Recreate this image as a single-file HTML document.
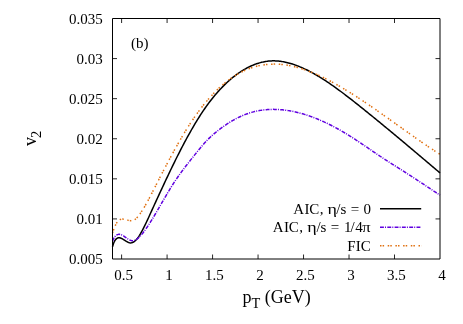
<!DOCTYPE html>
<html><head><meta charset="utf-8"><title>v2</title>
<style>
html,body{margin:0;padding:0;background:#fff;}
svg{display:block;opacity:0.999;will-change:transform;font-family:"Liberation Serif",serif;}
</style></head><body>
<svg width="463" height="324" viewBox="0 0 463 324">
<rect width="463" height="324" fill="#fff"/>
<g font-size="15" fill="#000">
<text x="102.7" y="264.15" text-anchor="end">0.005</text>
<text x="102.7" y="224.07" text-anchor="end">0.01</text>
<text x="102.7" y="183.98" text-anchor="end">0.015</text>
<text x="102.7" y="143.90" text-anchor="end">0.02</text>
<text x="102.7" y="103.82" text-anchor="end">0.025</text>
<text x="102.7" y="63.73" text-anchor="end">0.03</text>
<text x="102.7" y="23.65" text-anchor="end">0.035</text>
<text x="123.50" y="280" text-anchor="middle">0.5</text>
<text x="168.98" y="280" text-anchor="middle">1</text>
<text x="214.47" y="280" text-anchor="middle">1.5</text>
<text x="259.96" y="280" text-anchor="middle">2</text>
<text x="305.44" y="280" text-anchor="middle">2.5</text>
<text x="350.93" y="280" text-anchor="middle">3</text>
<text x="396.41" y="280" text-anchor="middle">3.5</text>
<text x="441.90" y="280" text-anchor="middle">4</text>
<text x="131.1" y="47.8">(b)</text>
<text y="214.1" x="293.2 304.4 309.2 319.8">AIC,</text>
<text transform="translate(327.6,214.1) scale(1.2,1)">&#951;</text>
<text y="214.1" x="336.3 340.5">/s</text>
<text y="214.1" x="350.8">=</text>
<text y="214.1" x="363.5">0</text>
<text y="232.4" x="272.7 283.9 288.7 299.3">AIC,</text>
<text transform="translate(307.2,232.4) scale(1.2,1)">&#951;</text>
<text y="232.4" x="316.5 320.5">/s</text>
<text y="232.4" x="330.8">=</text>
<text y="232.4" x="344.0 350.5 355.3">1/4</text>
<text transform="translate(362.3,232.4) scale(1.1,1)">&#960;</text>
<text x="347.3" y="251.0">FIC</text>
</g>
<g font-size="18" fill="#000">
<text x="242.5" y="303.3">p<tspan font-size="14.4" dy="4.2">T</tspan><tspan dy="-4.2"> (GeV)</tspan></text>
<text transform="translate(35.5,146.1) rotate(-90)">v<tspan font-size="14.4" dy="5.4" dx="-1">2</tspan></text>
</g>
<g fill="none" stroke-linejoin="round">
<path d="M112.50,246.72 L113.50,243.56 L114.50,241.25 L115.50,239.65 L116.50,238.62 L117.50,238.04 L118.50,237.80 L119.50,237.83 L120.50,238.06 L121.50,238.45 L122.50,238.95 L123.50,239.54 L124.50,240.18 L125.50,240.82 L126.50,241.44 L127.50,241.99 L128.50,242.44 L129.50,242.75 L130.50,242.89 L131.50,242.81 L132.50,242.52 L133.50,242.02 L134.50,241.33 L135.50,240.45 L136.50,239.40 L137.50,238.19 L138.50,236.83 L139.50,235.33 L140.50,233.70 L141.50,231.96 L142.50,230.13 L143.50,228.20 L144.50,226.20 L145.50,224.14 L146.50,222.02 L147.50,219.87 L148.50,217.69 L149.50,215.50 L150.50,213.31 L151.50,211.12 L152.50,208.92 L153.50,206.74 L154.50,204.55 L155.50,202.37 L156.50,200.18 L157.50,198.01 L158.50,195.84 L159.50,193.67 L160.50,191.51 L161.50,189.35 L162.50,187.20 L163.50,185.06 L164.50,182.92 L165.50,180.79 L166.50,178.67 L167.50,176.56 L168.50,174.46 L169.50,172.37 L170.50,170.28 L171.50,168.21 L172.50,166.15 L173.50,164.10 L174.50,162.06 L175.50,160.04 L176.50,158.03 L177.50,156.03 L178.50,154.05 L179.50,152.08 L180.50,150.12 L181.50,148.18 L182.50,146.26 L183.50,144.35 L184.50,142.46 L185.50,140.59 L186.50,138.74 L187.50,136.90 L188.50,135.08 L189.50,133.29 L190.50,131.51 L191.50,129.75 L192.50,128.02 L193.50,126.30 L194.50,124.61 L195.50,122.94 L196.50,121.29 L197.50,119.66 L198.50,118.06 L199.50,116.48 L200.50,114.93 L201.50,113.40 L202.50,111.90 L203.50,110.42 L204.50,108.97 L205.50,107.54 L206.50,106.14 L207.50,104.76 L208.50,103.40 L209.50,102.07 L210.50,100.76 L211.50,99.48 L212.50,98.22 L213.50,96.98 L214.50,95.77 L215.50,94.58 L216.50,93.41 L217.50,92.26 L218.50,91.14 L219.50,90.04 L220.50,88.96 L221.50,87.91 L222.50,86.87 L223.50,85.86 L224.50,84.87 L225.50,83.90 L226.50,82.95 L227.50,82.02 L228.50,81.12 L229.50,80.23 L230.50,79.37 L231.50,78.53 L232.50,77.70 L233.50,76.90 L234.50,76.12 L235.50,75.35 L236.50,74.61 L237.50,73.89 L238.50,73.18 L239.50,72.50 L240.50,71.83 L241.50,71.19 L242.50,70.56 L243.50,69.95 L244.50,69.36 L245.50,68.79 L246.50,68.24 L247.50,67.71 L248.50,67.20 L249.50,66.71 L250.50,66.24 L251.50,65.78 L252.50,65.35 L253.50,64.94 L254.50,64.54 L255.50,64.17 L256.50,63.81 L257.50,63.48 L258.50,63.17 L259.50,62.87 L260.50,62.60 L261.50,62.34 L262.50,62.11 L263.50,61.89 L264.50,61.70 L265.50,61.52 L266.50,61.37 L267.50,61.23 L268.50,61.12 L269.50,61.03 L270.50,60.95 L271.50,60.90 L272.50,60.87 L273.50,60.86 L274.50,60.87 L275.50,60.90 L276.50,60.94 L277.50,61.01 L278.50,61.09 L279.50,61.20 L280.50,61.32 L281.50,61.46 L282.50,61.62 L283.50,61.79 L284.50,61.98 L285.50,62.19 L286.50,62.41 L287.50,62.65 L288.50,62.91 L289.50,63.18 L290.50,63.46 L291.50,63.76 L292.50,64.08 L293.50,64.41 L294.50,64.75 L295.50,65.10 L296.50,65.47 L297.50,65.85 L298.50,66.24 L299.50,66.65 L300.50,67.07 L301.50,67.49 L302.50,67.93 L303.50,68.38 L304.50,68.84 L305.50,69.32 L306.50,69.80 L307.50,70.29 L308.50,70.79 L309.50,71.31 L310.50,71.83 L311.50,72.36 L312.50,72.90 L313.50,73.46 L314.50,74.02 L315.50,74.59 L316.50,75.17 L317.50,75.75 L318.50,76.35 L319.50,76.95 L320.50,77.56 L321.50,78.19 L322.50,78.81 L323.50,79.45 L324.50,80.09 L325.50,80.74 L326.50,81.40 L327.50,82.07 L328.50,82.74 L329.50,83.42 L330.50,84.10 L331.50,84.79 L332.50,85.49 L333.50,86.19 L334.50,86.90 L335.50,87.61 L336.50,88.33 L337.50,89.06 L338.50,89.79 L339.50,90.53 L340.50,91.27 L341.50,92.01 L342.50,92.76 L343.50,93.51 L344.50,94.27 L345.50,95.03 L346.50,95.80 L347.50,96.56 L348.50,97.34 L349.50,98.11 L350.50,98.89 L351.50,99.67 L352.50,100.45 L353.50,101.24 L354.50,102.03 L355.50,102.82 L356.50,103.61 L357.50,104.41 L358.50,105.20 L359.50,106.00 L360.50,106.80 L361.50,107.60 L362.50,108.40 L363.50,109.20 L364.50,110.01 L365.50,110.81 L366.50,111.62 L367.50,112.43 L368.50,113.24 L369.50,114.04 L370.50,114.86 L371.50,115.67 L372.50,116.48 L373.50,117.29 L374.50,118.11 L375.50,118.93 L376.50,119.74 L377.50,120.56 L378.50,121.38 L379.50,122.20 L380.50,123.02 L381.50,123.84 L382.50,124.66 L383.50,125.49 L384.50,126.31 L385.50,127.14 L386.50,127.96 L387.50,128.79 L388.50,129.62 L389.50,130.45 L390.50,131.27 L391.50,132.10 L392.50,132.94 L393.50,133.77 L394.50,134.60 L395.50,135.43 L396.50,136.26 L397.50,137.10 L398.50,137.93 L399.50,138.77 L400.50,139.60 L401.50,140.44 L402.50,141.28 L403.50,142.12 L404.50,142.95 L405.50,143.79 L406.50,144.63 L407.50,145.47 L408.50,146.31 L409.50,147.15 L410.50,147.99 L411.50,148.83 L412.50,149.67 L413.50,150.52 L414.50,151.36 L415.50,152.20 L416.50,153.05 L417.50,153.89 L418.50,154.73 L419.50,155.58 L420.50,156.42 L421.50,157.27 L422.50,158.11 L423.50,158.96 L424.50,159.80 L425.50,160.65 L426.50,161.49 L427.50,162.34 L428.50,163.18 L429.50,164.03 L430.50,164.87 L431.50,165.72 L432.50,166.57 L433.50,167.41 L434.50,168.26 L435.50,169.11 L436.50,169.95 L437.50,170.80 L438.50,171.64 L440.00,172.91" stroke="#000" stroke-width="1.5"/>
<path d="M112.50,241.25 L113.50,238.94 L114.50,237.22 L115.50,235.99 L116.50,235.15 L117.50,234.63 L118.50,234.36 L119.50,234.32 L120.50,234.49 L121.50,234.83 L122.50,235.31 L123.50,235.90 L124.50,236.57 L125.50,237.28 L126.50,238.00 L127.50,238.70 L128.50,239.35 L129.50,239.90 L130.50,240.34 L131.50,240.63 L132.50,240.73 L133.50,240.64 L134.50,240.38 L135.50,239.96 L136.50,239.38 L137.50,238.67 L138.50,237.83 L139.50,236.88 L140.50,235.83 L141.50,234.69 L142.50,233.47 L143.50,232.18 L144.50,230.84 L145.50,229.46 L146.50,228.03 L147.50,226.56 L148.50,225.05 L149.50,223.52 L150.50,221.95 L151.50,220.36 L152.50,218.74 L153.50,217.09 L154.50,215.43 L155.50,213.75 L156.50,212.05 L157.50,210.34 L158.50,208.63 L159.50,206.90 L160.50,205.17 L161.50,203.44 L162.50,201.71 L163.50,199.98 L164.50,198.26 L165.50,196.54 L166.50,194.84 L167.50,193.15 L168.50,191.47 L169.50,189.82 L170.50,188.18 L171.50,186.57 L172.50,184.99 L173.50,183.43 L174.50,181.90 L175.50,180.40 L176.50,178.92 L177.50,177.47 L178.50,176.04 L179.50,174.63 L180.50,173.24 L181.50,171.87 L182.50,170.52 L183.50,169.18 L184.50,167.86 L185.50,166.55 L186.50,165.25 L187.50,163.96 L188.50,162.69 L189.50,161.42 L190.50,160.15 L191.50,158.90 L192.50,157.64 L193.50,156.39 L194.50,155.14 L195.50,153.89 L196.50,152.65 L197.50,151.40 L198.50,150.16 L199.50,148.94 L200.50,147.73 L201.50,146.53 L202.50,145.35 L203.50,144.20 L204.50,143.07 L205.50,141.98 L206.50,140.91 L207.50,139.87 L208.50,138.87 L209.50,137.89 L210.50,136.94 L211.50,136.02 L212.50,135.12 L213.50,134.24 L214.50,133.38 L215.50,132.55 L216.50,131.73 L217.50,130.93 L218.50,130.15 L219.50,129.38 L220.50,128.63 L221.50,127.89 L222.50,127.16 L223.50,126.45 L224.50,125.75 L225.50,125.06 L226.50,124.39 L227.50,123.73 L228.50,123.09 L229.50,122.46 L230.50,121.84 L231.50,121.24 L232.50,120.65 L233.50,120.08 L234.50,119.52 L235.50,118.98 L236.50,118.45 L237.50,117.94 L238.50,117.44 L239.50,116.96 L240.50,116.50 L241.50,116.05 L242.50,115.61 L243.50,115.19 L244.50,114.79 L245.50,114.40 L246.50,114.03 L247.50,113.68 L248.50,113.33 L249.50,113.01 L250.50,112.70 L251.50,112.40 L252.50,112.12 L253.50,111.85 L254.50,111.60 L255.50,111.36 L256.50,111.14 L257.50,110.93 L258.50,110.73 L259.50,110.55 L260.50,110.38 L261.50,110.23 L262.50,110.09 L263.50,109.96 L264.50,109.84 L265.50,109.74 L266.50,109.65 L267.50,109.57 L268.50,109.51 L269.50,109.46 L270.50,109.42 L271.50,109.39 L272.50,109.37 L273.50,109.37 L274.50,109.38 L275.50,109.40 L276.50,109.43 L277.50,109.47 L278.50,109.52 L279.50,109.58 L280.50,109.66 L281.50,109.74 L282.50,109.84 L283.50,109.95 L284.50,110.06 L285.50,110.19 L286.50,110.33 L287.50,110.47 L288.50,110.63 L289.50,110.80 L290.50,110.97 L291.50,111.16 L292.50,111.35 L293.50,111.56 L294.50,111.77 L295.50,111.99 L296.50,112.22 L297.50,112.46 L298.50,112.71 L299.50,112.97 L300.50,113.23 L301.50,113.51 L302.50,113.79 L303.50,114.09 L304.50,114.39 L305.50,114.70 L306.50,115.02 L307.50,115.34 L308.50,115.68 L309.50,116.02 L310.50,116.37 L311.50,116.73 L312.50,117.10 L313.50,117.47 L314.50,117.86 L315.50,118.25 L316.50,118.65 L317.50,119.05 L318.50,119.47 L319.50,119.89 L320.50,120.32 L321.50,120.76 L322.50,121.20 L323.50,121.65 L324.50,122.11 L325.50,122.58 L326.50,123.05 L327.50,123.53 L328.50,124.02 L329.50,124.51 L330.50,125.02 L331.50,125.52 L332.50,126.04 L333.50,126.56 L334.50,127.09 L335.50,127.63 L336.50,128.17 L337.50,128.72 L338.50,129.27 L339.50,129.83 L340.50,130.40 L341.50,130.97 L342.50,131.55 L343.50,132.14 L344.50,132.73 L345.50,133.33 L346.50,133.93 L347.50,134.54 L348.50,135.16 L349.50,135.78 L350.50,136.40 L351.50,137.04 L352.50,137.67 L353.50,138.31 L354.50,138.96 L355.50,139.61 L356.50,140.27 L357.50,140.93 L358.50,141.59 L359.50,142.26 L360.50,142.93 L361.50,143.60 L362.50,144.27 L363.50,144.95 L364.50,145.63 L365.50,146.30 L366.50,146.99 L367.50,147.67 L368.50,148.35 L369.50,149.03 L370.50,149.72 L371.50,150.40 L372.50,151.08 L373.50,151.76 L374.50,152.45 L375.50,153.13 L376.50,153.80 L377.50,154.48 L378.50,155.16 L379.50,155.83 L380.50,156.50 L381.50,157.16 L382.50,157.83 L383.50,158.49 L384.50,159.14 L385.50,159.80 L386.50,160.44 L387.50,161.09 L388.50,161.73 L389.50,162.37 L390.50,163.01 L391.50,163.64 L392.50,164.27 L393.50,164.90 L394.50,165.53 L395.50,166.16 L396.50,166.79 L397.50,167.42 L398.50,168.05 L399.50,168.68 L400.50,169.32 L401.50,169.95 L402.50,170.59 L403.50,171.22 L404.50,171.86 L405.50,172.50 L406.50,173.14 L407.50,173.78 L408.50,174.43 L409.50,175.07 L410.50,175.72 L411.50,176.37 L412.50,177.02 L413.50,177.67 L414.50,178.32 L415.50,178.97 L416.50,179.62 L417.50,180.28 L418.50,180.93 L419.50,181.59 L420.50,182.24 L421.50,182.90 L422.50,183.56 L423.50,184.22 L424.50,184.88 L425.50,185.54 L426.50,186.20 L427.50,186.87 L428.50,187.53 L429.50,188.19 L430.50,188.86 L431.50,189.52 L432.50,190.19 L433.50,190.86 L434.50,191.52 L435.50,192.19 L436.50,192.86 L437.50,193.53 L438.50,194.19 L440.00,195.20" stroke="#6000e0" stroke-width="1.5" stroke-dasharray="3.9 1.1 1.0 1.3"/>
<path d="M112.50,232.96 L113.50,230.10 L114.50,227.48 L115.50,225.16 L116.50,223.21 L117.50,221.69 L118.50,220.58 L119.50,219.83 L120.50,219.37 L121.50,219.15 L122.50,219.11 L123.50,219.20 L124.50,219.37 L125.50,219.60 L126.50,219.86 L127.50,220.12 L128.50,220.36 L129.50,220.54 L130.50,220.65 L131.50,220.65 L132.50,220.52 L133.50,220.23 L134.50,219.74 L135.50,219.05 L136.50,218.15 L137.50,217.08 L138.50,215.86 L139.50,214.53 L140.50,213.10 L141.50,211.61 L142.50,210.06 L143.50,208.44 L144.50,206.77 L145.50,205.05 L146.50,203.29 L147.50,201.48 L148.50,199.64 L149.50,197.77 L150.50,195.87 L151.50,193.95 L152.50,192.01 L153.50,190.05 L154.50,188.09 L155.50,186.12 L156.50,184.15 L157.50,182.19 L158.50,180.23 L159.50,178.28 L160.50,176.33 L161.50,174.39 L162.50,172.46 L163.50,170.53 L164.50,168.61 L165.50,166.70 L166.50,164.80 L167.50,162.91 L168.50,161.02 L169.50,159.15 L170.50,157.29 L171.50,155.44 L172.50,153.60 L173.50,151.78 L174.50,149.96 L175.50,148.16 L176.50,146.38 L177.50,144.60 L178.50,142.85 L179.50,141.10 L180.50,139.38 L181.50,137.67 L182.50,135.98 L183.50,134.30 L184.50,132.64 L185.50,131.01 L186.50,129.39 L187.50,127.79 L188.50,126.21 L189.50,124.65 L190.50,123.11 L191.50,121.59 L192.50,120.09 L193.50,118.62 L194.50,117.16 L195.50,115.73 L196.50,114.32 L197.50,112.93 L198.50,111.57 L199.50,110.22 L200.50,108.89 L201.50,107.59 L202.50,106.31 L203.50,105.04 L204.50,103.80 L205.50,102.58 L206.50,101.38 L207.50,100.20 L208.50,99.04 L209.50,97.91 L210.50,96.79 L211.50,95.70 L212.50,94.62 L213.50,93.57 L214.50,92.53 L215.50,91.52 L216.50,90.52 L217.50,89.55 L218.50,88.59 L219.50,87.66 L220.50,86.75 L221.50,85.85 L222.50,84.98 L223.50,84.12 L224.50,83.29 L225.50,82.47 L226.50,81.68 L227.50,80.90 L228.50,80.14 L229.50,79.40 L230.50,78.68 L231.50,77.98 L232.50,77.30 L233.50,76.63 L234.50,75.99 L235.50,75.36 L236.50,74.75 L237.50,74.17 L238.50,73.59 L239.50,73.04 L240.50,72.51 L241.50,71.99 L242.50,71.49 L243.50,71.01 L244.50,70.54 L245.50,70.10 L246.50,69.67 L247.50,69.26 L248.50,68.86 L249.50,68.49 L250.50,68.12 L251.50,67.78 L252.50,67.45 L253.50,67.14 L254.50,66.84 L255.50,66.57 L256.50,66.30 L257.50,66.05 L258.50,65.82 L259.50,65.61 L260.50,65.40 L261.50,65.22 L262.50,65.05 L263.50,64.89 L264.50,64.75 L265.50,64.62 L266.50,64.51 L267.50,64.41 L268.50,64.33 L269.50,64.26 L270.50,64.21 L271.50,64.17 L272.50,64.14 L273.50,64.12 L274.50,64.12 L275.50,64.14 L276.50,64.16 L277.50,64.20 L278.50,64.25 L279.50,64.32 L280.50,64.39 L281.50,64.48 L282.50,64.59 L283.50,64.70 L284.50,64.83 L285.50,64.96 L286.50,65.11 L287.50,65.27 L288.50,65.45 L289.50,65.63 L290.50,65.83 L291.50,66.03 L292.50,66.25 L293.50,66.48 L294.50,66.72 L295.50,66.97 L296.50,67.22 L297.50,67.49 L298.50,67.77 L299.50,68.06 L300.50,68.36 L301.50,68.67 L302.50,68.99 L303.50,69.32 L304.50,69.66 L305.50,70.00 L306.50,70.36 L307.50,70.72 L308.50,71.10 L309.50,71.48 L310.50,71.87 L311.50,72.27 L312.50,72.67 L313.50,73.09 L314.50,73.51 L315.50,73.94 L316.50,74.38 L317.50,74.82 L318.50,75.27 L319.50,75.73 L320.50,76.20 L321.50,76.67 L322.50,77.15 L323.50,77.64 L324.50,78.13 L325.50,78.63 L326.50,79.14 L327.50,79.65 L328.50,80.17 L329.50,80.69 L330.50,81.22 L331.50,81.75 L332.50,82.29 L333.50,82.84 L334.50,83.39 L335.50,83.95 L336.50,84.51 L337.50,85.07 L338.50,85.64 L339.50,86.22 L340.50,86.80 L341.50,87.39 L342.50,87.98 L343.50,88.57 L344.50,89.17 L345.50,89.77 L346.50,90.38 L347.50,90.99 L348.50,91.61 L349.50,92.23 L350.50,92.85 L351.50,93.48 L352.50,94.11 L353.50,94.75 L354.50,95.38 L355.50,96.03 L356.50,96.67 L357.50,97.32 L358.50,97.97 L359.50,98.63 L360.50,99.29 L361.50,99.95 L362.50,100.61 L363.50,101.28 L364.50,101.95 L365.50,102.62 L366.50,103.30 L367.50,103.98 L368.50,104.66 L369.50,105.34 L370.50,106.03 L371.50,106.71 L372.50,107.40 L373.50,108.09 L374.50,108.79 L375.50,109.48 L376.50,110.18 L377.50,110.88 L378.50,111.58 L379.50,112.28 L380.50,112.98 L381.50,113.69 L382.50,114.39 L383.50,115.10 L384.50,115.81 L385.50,116.52 L386.50,117.23 L387.50,117.94 L388.50,118.65 L389.50,119.36 L390.50,120.08 L391.50,120.79 L392.50,121.50 L393.50,122.22 L394.50,122.93 L395.50,123.65 L396.50,124.36 L397.50,125.08 L398.50,125.79 L399.50,126.51 L400.50,127.22 L401.50,127.94 L402.50,128.65 L403.50,129.37 L404.50,130.08 L405.50,130.79 L406.50,131.50 L407.50,132.21 L408.50,132.92 L409.50,133.63 L410.50,134.34 L411.50,135.05 L412.50,135.75 L413.50,136.46 L414.50,137.16 L415.50,137.86 L416.50,138.56 L417.50,139.26 L418.50,139.95 L419.50,140.65 L420.50,141.34 L421.50,142.03 L422.50,142.72 L423.50,143.41 L424.50,144.09 L425.50,144.77 L426.50,145.45 L427.50,146.13 L428.50,146.81 L429.50,147.48 L430.50,148.15 L431.50,148.81 L432.50,149.48 L433.50,150.14 L434.50,150.79 L435.50,151.45 L436.50,152.10 L437.50,152.75 L438.50,153.39 L440.00,154.35" stroke="#e07010" stroke-width="1.5" stroke-dasharray="1.5 1.1 1.5 3.6"/>
<path d="M380,208.7H421.2" stroke="#000" stroke-width="1.5"/>
<path d="M380,227.2H421.2" stroke="#6000e0" stroke-width="1.5" stroke-dasharray="3.9 1.1 1.0 1.3"/>
<path d="M380,245.8H421.2" stroke="#e07010" stroke-width="1.5" stroke-dasharray="1.5 1.1 1.5 3.6"/>
<path d="M112.5,218.92h4.5 M440.0,218.92h-4.5 M112.5,178.83h4.5 M440.0,178.83h-4.5 M112.5,138.75h4.5 M440.0,138.75h-4.5 M112.5,98.67h4.5 M440.0,98.67h-4.5 M112.5,58.58h4.5 M440.0,58.58h-4.5 M121.60,259.0v-4.5 M121.60,18.5v4.5 M167.08,259.0v-4.5 M167.08,18.5v4.5 M212.57,259.0v-4.5 M212.57,18.5v4.5 M258.06,259.0v-4.5 M258.06,18.5v4.5 M303.54,259.0v-4.5 M303.54,18.5v4.5 M349.03,259.0v-4.5 M349.03,18.5v4.5 M394.51,259.0v-4.5 M394.51,18.5v4.5" stroke="#000" stroke-width="0.85"/>
<path d="M112.5,18.5H440.0V259.0H112.5Z" stroke="#000" stroke-width="1"/>
</g>
</svg>
</body></html>
